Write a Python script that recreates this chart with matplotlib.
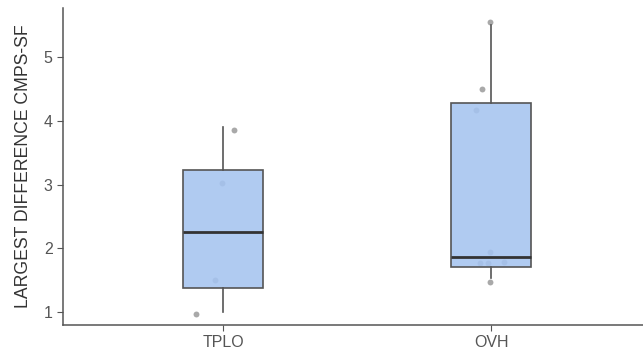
import matplotlib
matplotlib.use("Agg")
import matplotlib.pyplot as plt

plt.rcParams['font.family'] = ['Liberation Sans', 'DejaVu Sans']

groups = ["TPLO", "OVH"]
whislo = [1.0, 1.53]
q1 = [1.376, 1.706]
med = [2.255, 1.86]
q3 = [3.227, 4.278]
whishi = [3.9, 5.50]

# jittered raw points (x offset, y)
tplo_x = [1.04, 0.995, 0.97, 0.9]
tplo_y = [3.86, 3.02, 1.50, 0.97]
ovh_x = [1.995, 1.965, 1.945, 1.995, 1.96, 1.99, 2.05, 1.995]
ovh_y = [5.55, 4.50, 4.17, 1.94, 1.77, 1.77, 1.78, 1.47]

fig = plt.figure(figsize=(6.43, 3.61), dpi=100)
ax = fig.add_axes([0.098, 0.0997, 0.902, 0.878])

stats = []
for i, g in enumerate(groups):
    stats.append(dict(label=g, whislo=whislo[i], q1=q1[i], med=med[i],
                      q3=q3[i], whishi=whishi[i], fliers=[]))

# points sit under the boxes, box fill slightly see-through
ax.scatter(tplo_x, tplo_y, s=18, color='#8c8c8c', alpha=0.75, linewidths=0, zorder=1)
ax.scatter(ovh_x, ovh_y, s=18, color='#8c8c8c', alpha=0.75, linewidths=0, zorder=1)

bp = ax.bxp(stats, positions=[1, 2], widths=0.30, patch_artist=True, showcaps=False,
            boxprops=dict(facecolor=(0.647, 0.769, 0.941, 0.88), edgecolor='#555555', linewidth=1.2),
            whiskerprops=dict(color='#555555', linewidth=1.2),
            medianprops=dict(color='#333333', linewidth=2))
for b in bp['boxes']:
    b.set_zorder(2)

ax.set_xlim(0.403, 2.567)
ax.set_ylim(0.796, 5.77)
ax.set_yticks([1, 2, 3, 4, 5])
ax.set_xticks([1, 2])
ax.set_xticklabels(groups)
ax.set_ylabel("LARGEST DIFFERENCE CMPS-SF", fontsize=12.7, color='#333333', labelpad=8)
ax.tick_params(colors='#555555', labelcolor='#555555', labelsize=11.5, length=4)
for side in ['top', 'right']:
    ax.spines[side].set_visible(False)
for side in ['left', 'bottom']:
    ax.spines[side].set_color('#555555')
    ax.spines[side].set_linewidth(1.1)

fig.savefig("out.png", dpi=100)
